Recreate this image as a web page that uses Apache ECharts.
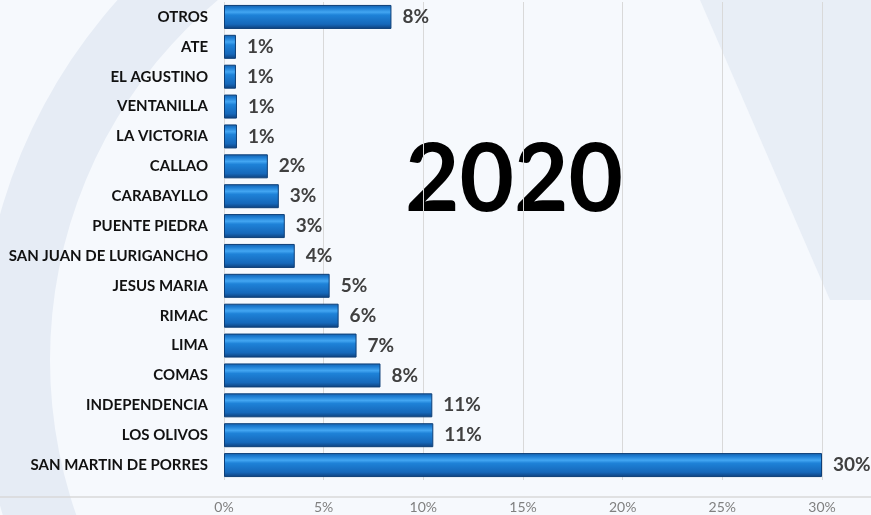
<!DOCTYPE html>
<html>
<head>
<meta charset="utf-8">
<script src="https://cdn.jsdelivr.net/npm/echarts@6/dist/echarts.min.js"></script>
<style>
  html, body { margin: 0; padding: 0; }
  #chart { width: 871px; height: 515px; }
</style>
</head>
<body>
<div id="chart"></div>
<script>
  // districts, top to bottom
  var districts = ['OTROS', 'ATE', 'EL AGUSTINO', 'VENTANILLA', 'LA VICTORIA', 'CALLAO', 'CARABAYLLO',
    'PUENTE PIEDRA', 'SAN JUAN DE LURIGANCHO', 'JESUS MARIA', 'RIMAC', 'LIMA', 'COMAS',
    'INDEPENDENCIA', 'LOS OLIVOS', 'SAN MARTIN DE PORRES'];
  // share (%)
  var shares = [8.4, 0.6, 0.6, 0.65, 0.65, 2.2, 2.75, 3.05, 3.55, 5.3, 5.75, 6.65, 7.85, 10.45, 10.5, 30];
  // labels printed next to the bars
  var shareLabels = ['8%', '1%', '1%', '1%', '1%', '2%', '3%', '3%', '4%', '5%', '6%', '7%', '8%', '11%', '11%', '30%'];
  var xTicks = [0, 5, 10, 15, 20, 25, 30];
  var yearText = '2020';

  var chart = echarts.init(document.getElementById('chart'));

  var barColor = new echarts.graphic.LinearGradient(0, 0, 0, 1, [
    { offset: 0, color: '#1a5fa6' },
    { offset: 0.12, color: '#1b7ad0' },
    { offset: 0.3, color: '#43a6f2' },
    { offset: 0.42, color: '#1e82d8' },
    { offset: 0.8, color: '#1668ba' },
    { offset: 1, color: '#0e3f7a' }
  ]);

  var option = {
    backgroundColor: '#f6f9fd',
    animation: false,
    graphic: [
      // faint watermark shapes
      { type: 'ring', silent: true, z: -10,
        shape: { cx: 520, cy: 360, r: 540, r0: 470 },
        style: { fill: '#e6ecf5' } },
      { type: 'polygon', silent: true, z: -10,
        shape: { points: [[700, 0], [871, 0], [871, 300], [830, 300]] },
        style: { fill: '#e8eef6' } },
      { type: 'line', silent: true, z: 0,
        shape: { x1: 0, y1: 497, x2: 871, y2: 497 },
        style: { stroke: '#d9d9d9', lineWidth: 1.5 } },
      { type: 'text', left: 405, top: 134, z: -5, silent: true,
        style: { text: yearText, font: 'bold 94px Lato', fill: '#000000' } }
    ],
    grid: { left: 224, right: 49, top: 2, bottom: 35 },
    xAxis: {
      type: 'value',
      min: 0,
      max: 30,
      interval: 5,
      axisLine: { show: false },
      axisTick: { show: false },
      splitLine: { show: true, lineStyle: { color: '#d9d9d9', width: 1 } },
      axisLabel: {
        margin: 20,
        color: '#808080',
        fontFamily: 'Lato',
        fontSize: 14,
        formatter: function (v) { return xTicks.indexOf(v) >= 0 ? v + '%' : ''; }
      }
    },
    yAxis: {
      type: 'category',
      inverse: true,
      data: districts,
      axisLine: { show: false },
      axisTick: { show: false },
      axisLabel: {
        margin: 16,
        color: '#111111',
        fontFamily: 'Lato',
        fontWeight: 'bold',
        fontSize: 15
      }
    },
    series: [{
      type: 'bar',
      data: shares,
      barWidth: 24,
      z: 3,
      itemStyle: { color: barColor, borderColor: '#0d3f78', borderWidth: 1 },
      label: {
        show: true,
        position: 'right',
        distance: 11,
        color: '#404040',
        fontFamily: 'Lato',
        fontWeight: 'bold',
        fontSize: 19,
        formatter: function (p) { return shareLabels[p.dataIndex]; }
      }
    }]
  };
  chart.setOption(option);
</script>
</body>
</html>
